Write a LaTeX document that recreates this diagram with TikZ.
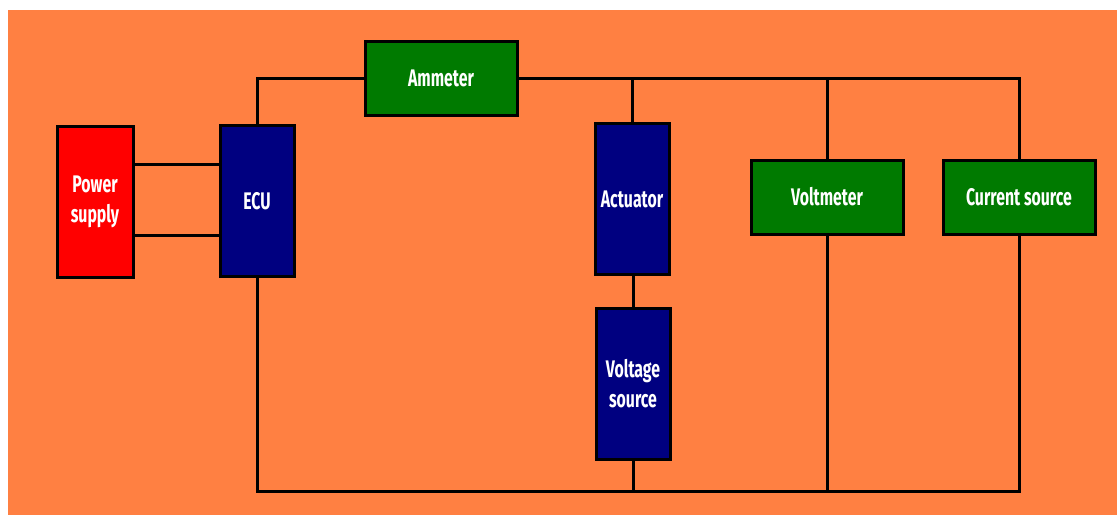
\documentclass[tikz,border=0pt]{standalone}
\usepackage{fontspec}
\setmainfont{Fira Sans}[FakeStretch=0.66]
\usetikzlibrary{positioning}

\definecolor{bgorange}{HTML}{FF8042}
\definecolor{psured}{HTML}{FF0000}
\definecolor{ecublue}{HTML}{000080}
\definecolor{metergreen}{HTML}{007A00}

\begin{document}
\begin{tikzpicture}[x=1pt, y=-1pt]
            \tikzstyle{every node} = [align=center, draw=black, line width=3pt, text=white, inner sep=0pt,
                                      font=\fontsize{24}{30}\selectfont\bfseries]
            \tikzstyle{tallbox} = [minimum width=74pt, minimum height=151pt]
            \tikzstyle{widebox} = [minimum width=152pt, minimum height=74pt, fill=metergreen]
            \tikzstyle{wire} = [line width=3pt]

            % background
            \useasboundingbox (0,0) rectangle (1117,515);
            \fill[white] (0,0) rectangle (1117,515);
            \fill[bgorange] (8,10) rectangle (1117,515);

            \node[tallbox, fill=psured, minimum width=76pt](psu) at (95,202){Power\\supply};
            \node[tallbox, fill=ecublue](ecu) at (257,201){ECU};
            \node[widebox](amm) at (441,78){Ammeter};
            \node[tallbox, fill=ecublue](act) at (632,199){Actuator};
            \node[tallbox, fill=ecublue](vsrc) at (633,384){Voltage\\source};
            \node[widebox](vm) at (827,197){Voltmeter};
            \node[widebox](isrc) at (1019,197){Current source};
            \coordinate (bus) at (0,491);

            \draw[wire] ([yshift=38pt]psu.east) -- ([yshift=38pt]psu.east -| ecu.west);
            \draw[wire] ([yshift=-33pt]psu.east) -- ([yshift=-33pt]psu.east -| ecu.west);
            \draw[wire] (ecu.north) |- (amm.west);
            \draw[wire] (amm.east) -| (isrc.north);
            \draw[wire] (act.north) -- (act.north |- amm.east);
            \draw[wire] (vm.north) -- (vm.north |- amm.east);
            \draw[wire] (act.south) -- (act.south -| vsrc.north) -- (vsrc.north);
            \draw[wire] (ecu.south) -- (ecu.south |- bus) -- (isrc.south |- bus) -- (isrc.south);
            \draw[wire] (vsrc.south) -- (vsrc.south |- bus);
            \draw[wire] (vm.south) -- (vm.south |- bus);
      \end{tikzpicture}
\end{document}
